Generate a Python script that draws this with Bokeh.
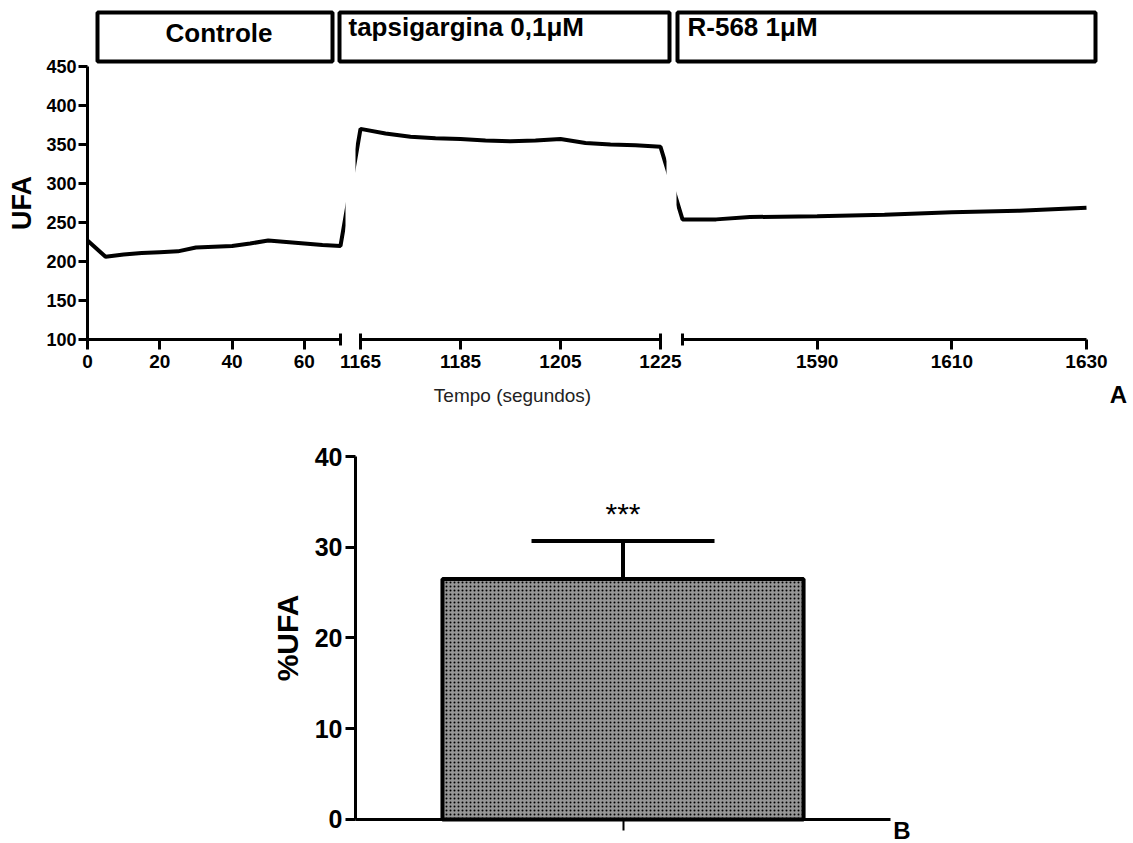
import numpy as np
from bokeh.plotting import figure
from bokeh.layouts import column
from bokeh.models import Range1d, FixedTicker, Label, Whisker, TeeHead, ColumnDataSource
from bokeh.embed import file_html
from bokeh.resources import INLINE

FONT = "Liberation Sans"

# ---------------- Data: panel A (UFA over time, three periods) ----------------
treatments = ["Controle", "tapsigargina 0,1\u03bcM", "R-568 1\u03bcM"]
seg_start = [0, 1165, 1570]
seg_end = [70, 1225, 1630]

t_controle = [0, 5, 10, 15, 20, 25, 30, 35, 40, 45, 50, 55, 60, 65, 70]
ufa_controle = [227, 206, 209, 211, 212, 213, 218, 219, 220, 223, 227, 225, 223, 221, 220]
t_tapsi = [1165, 1170, 1175, 1180, 1185, 1190, 1195, 1200, 1205, 1210, 1215, 1220, 1225]
ufa_tapsi = [370, 364, 360, 358, 357, 355, 354, 355, 357, 352, 350, 349, 347]
t_r568 = [1570, 1575, 1580, 1590, 1600, 1610, 1620, 1630]
ufa_r568 = [254, 254, 257, 258, 260, 263, 265, 269]

x_ticks_A = [0, 20, 40, 60, 1165, 1185, 1205, 1225, 1590, 1610, 1630]
y_ticks_A = [100, 150, 200, 250, 300, 350, 400, 450]

# ---------------- Data: panel B (%UFA bar) ----------------
pct_ufa = [26.5]
pct_ufa_sem = [4.2]
significance = "***"
y_ticks_B = [0, 10, 20, 30, 40]

# ---------------- Layout constants (broken x axis, px from the y axis) ----------------
SEG_POS = [0, 273, 595]
SEG_WIDTH = [253, 300, 404]


def to_pos(t):
    """Piecewise scale for the broken time axis."""
    t = np.asarray(t, dtype=float)
    out = np.full_like(t, np.nan)
    for s0, s1, p0, w in zip(seg_start, seg_end, SEG_POS, SEG_WIDTH):
        m = (t >= s0) & (t <= s1)
        out[m] = p0 + (t[m] - s0) * w / (s1 - s0)
    return out


def txt(**kw):
    kw.setdefault("text_font", FONT)
    kw.setdefault("text_color", "black")
    kw.setdefault("text_baseline", "alphabetic")
    return Label(**kw)


def style_axis(ax, size, tick_out, tick_w=3):
    ax.major_tick_out = tick_out
    ax.major_tick_in = 0
    ax.major_tick_line_width = tick_w
    ax.minor_tick_line_color = None
    ax.major_label_text_font = FONT
    ax.major_label_text_font_style = "bold"
    ax.major_label_text_font_size = size
    ax.major_label_text_color = "black"


# ---------------- Panel A ----------------
pa = figure(width=1133, height=408, x_range=Range1d(-87, 1046), y_range=Range1d(11.54, 534.6),
            output_backend="svg", toolbar_location=None,
            min_border_left=0, min_border_right=0, min_border_top=0, min_border_bottom=0)
pa.grid.visible = False
pa.outline_line_color = None

# treatment boxes above the trace
box_left = [10, 252, 590]
box_right = [245, 582, 1008]
pa.quad(left=box_left, right=box_right, bottom=456.4, top=519.2,
        fill_color=None, line_color="black", line_width=4)
pa.add_layout(txt(x=(box_left[0] + box_right[0]) / 2 + 4, y=492.3, text=treatments[0],
                  text_align="center", text_font_style="bold", text_font_size="26px"))
pa.add_layout(txt(x=box_left[1] + 9, y=500.0, text=treatments[1],
                  text_align="left", text_font_style="bold", text_font_size="26px"))
pa.add_layout(txt(x=box_left[2] + 10, y=500.0, text=treatments[2],
                  text_align="left", text_font_style="bold", text_font_size="26px"))

t_all = t_controle + t_tapsi + t_r568
ufa_all = ufa_controle + ufa_tapsi + ufa_r568
pa.line(x=to_pos(t_all), y=ufa_all, line_color="black", line_width=4)

# white breaks in the trace between axis pieces
y_base = y_ticks_A[0]
gap_c = [(to_pos([seg_end[i]])[0] + to_pos([seg_start[i + 1]])[0]) / 2 for i in range(2)]
pa.quad(left=[g - 5 for g in gap_c], right=[g + 5 for g in gap_c], bottom=y_base + 4,
        top=y_ticks_A[-1], fill_color="white", line_color=None)

# broken x-axis baseline with end caps
pa.segment(x0=to_pos(seg_start), y0=y_base, x1=to_pos(seg_end), y1=y_base,
           line_color="black", line_width=3)
cap_t = [seg_end[0], seg_start[1], seg_end[1], seg_start[2]]
pa.scatter(x=to_pos(cap_t), y=y_base, marker="dash", angle=np.pi / 2, size=12,
           line_color="black", line_width=3)

pa.xaxis.fixed_location = y_base
pa.xaxis.ticker = FixedTicker(ticks=list(to_pos(x_ticks_A)))
pa.xaxis.major_label_overrides = {float(p): str(t) for p, t in zip(to_pos(x_ticks_A), x_ticks_A)}
pa.xaxis.axis_line_color = None
style_axis(pa.xaxis, "19px", 10)
pa.xaxis.major_label_standoff = 6

pa.yaxis.fixed_location = 0
pa.yaxis.ticker = FixedTicker(ticks=y_ticks_A)
pa.yaxis.bounds = (y_ticks_A[0], y_ticks_A[-1])
pa.yaxis.axis_line_width = 3
style_axis(pa.yaxis, "18px", 9)
pa.yaxis.major_label_standoff = 2
pa.yaxis.axis_label = "UFA"
pa.yaxis.axis_label_text_font = FONT
pa.yaxis.axis_label_text_font_style = "bold"
pa.yaxis.axis_label_text_font_size = "27px"
pa.yaxis.axis_label_text_color = "black"
pa.yaxis.axis_label_standoff = 6

pa.add_layout(txt(x=425, y=28.2, text="Tempo (segundos)", text_align="center",
                  text_font_size="19px", text_color="#222222"))
pa.add_layout(txt(x=1031, y=30.0, text="A", text_align="center",
                  text_font_style="bold", text_font_size="24px"))

# ---------------- Panel B ----------------
pb = figure(width=1133, height=435, x_range=Range1d(-1.1636, 0.9542), y_range=Range1d(-2.645, 42.755),
            output_backend="svg", toolbar_location=None,
            min_border_left=0, min_border_right=0, min_border_top=23, min_border_bottom=0)
pb.grid.visible = False
pb.outline_line_color = None

bar_x = list(range(len(pct_ufa)))
pb.vbar(x=bar_x, top=pct_ufa, bottom=0, width=0.675,
        fill_color="#969696", line_color="black", line_width=4,
        hatch_pattern="dot", hatch_color="black", hatch_scale=4, hatch_weight=2)
upper = [v + e for v, e in zip(pct_ufa, pct_ufa_sem)]
src = ColumnDataSource(dict(x=bar_x, lower=pct_ufa, upper=upper))
pb.add_layout(Whisker(base="x", lower="lower", upper="upper", source=src, dimension="height",
                      line_color="black", line_width=4, lower_head=None,
                      upper_head=TeeHead(size=183, line_color="black", line_width=4)))
pb.add_layout(txt(x=bar_x[0], y=upper[0] + 3.0, text=significance, text_align="center",
                  text_font_size="30px"))

pb.xaxis.fixed_location = 0
pb.xaxis.bounds = (-0.5, 0.5)
pb.xaxis.ticker = FixedTicker(ticks=bar_x)
pb.xaxis.major_label_overrides = {0: ""}
pb.xaxis.axis_line_width = 3
style_axis(pb.xaxis, "1px", 11, tick_w=2)
pb.xaxis.major_label_standoff = 0

pb.yaxis.fixed_location = -0.5
pb.yaxis.ticker = FixedTicker(ticks=y_ticks_B)
pb.yaxis.bounds = (y_ticks_B[0], y_ticks_B[-1])
pb.yaxis.axis_line_width = 3
style_axis(pb.yaxis, "25px", 10)
pb.yaxis.major_label_standoff = 3
pb.yaxis.axis_label = "%UFA"
pb.yaxis.axis_label_text_font = FONT
pb.yaxis.axis_label_text_font_style = "bold"
pb.yaxis.axis_label_text_font_size = "30px"
pb.yaxis.axis_label_text_color = "black"
pb.yaxis.axis_label_standoff = 8

pb.add_layout(txt(x=0.5215, y=-1.2, text="B", text_align="center",
                  text_font_style="bold", text_font_size="24px"))

layout = column(pa, pb)
open("out.html", "w").write(file_html(layout, INLINE))
